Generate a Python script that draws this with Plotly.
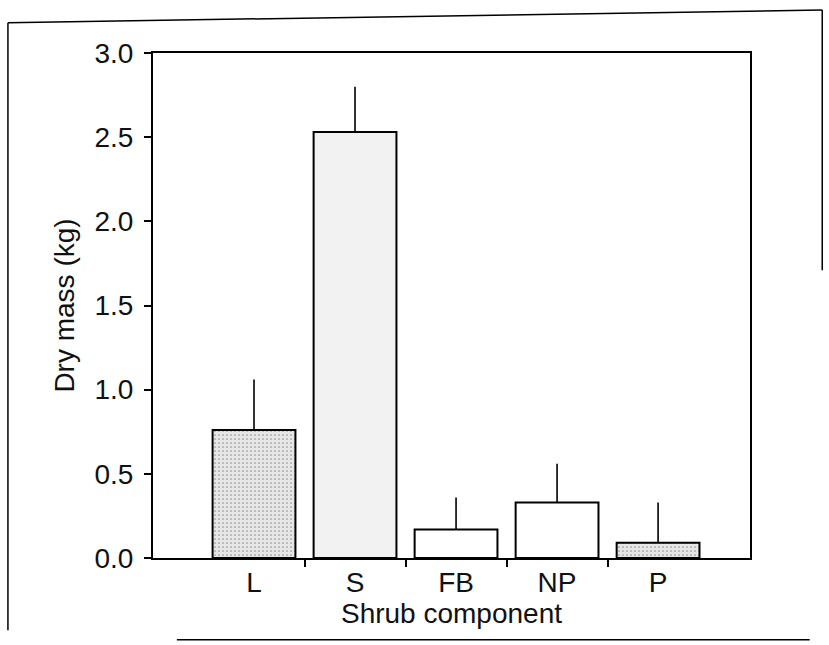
import plotly.graph_objects as go

categories = ["L", "S", "FB", "NP", "P"]
values = [0.76, 2.53, 0.17, 0.33, 0.09]
err_upper = [0.30, 0.27, 0.19, 0.23, 0.24]
fills = ["#e6e6e6", "#f2f2f2", "#ffffff", "#ffffff", "#e6e6e6"]
yticks = [0.0, 0.5, 1.0, 1.5, 2.0, 2.5, 3.0]
ytick_text = ["0.0", "0.5", "1.0", "1.5", "2.0", "2.5", "3.0"]

xpos = list(range(len(categories)))

fig = go.Figure()
fig.add_trace(go.Bar(
    x=xpos, y=values, width=0.82,
    marker=dict(color=fills, line=dict(color="black", width=2),
                pattern=dict(shape=[".", "", "", "", "."], size=4, solidity=0.15, fgcolor="#9a9a9a")),
    error_y=dict(type="data", symmetric=False, array=err_upper,
                 arrayminus=[0] * len(values), width=0, thickness=1.6, color="black"),
    showlegend=False,
))

font = "Liberation Sans, Arial, Helvetica, sans-serif"
fs = 28
fig.update_layout(
    width=829, height=645,
    margin=dict(l=153, r=79, t=53, b=87),
    paper_bgcolor="white", plot_bgcolor="white",
    font=dict(family=font, size=fs, color="#111111"),
    xaxis=dict(
        range=[-1.0, 4.91], tickvals=xpos, ticktext=categories,
        ticks="", showline=True, linecolor="black", linewidth=2, mirror=True,
        showgrid=False, zeroline=False, tickfont=dict(size=fs),
        ticklabelstandoff=-2,
        minor=dict(tickvals=[0.5, 1.5, 2.5, 3.5], ticks="outside", ticklen=7,
                   tickcolor="black", tickwidth=2, showgrid=False),
        title=dict(text="Shrub component", font=dict(size=fs), standoff=2),
    ),
    yaxis=dict(
        range=[0, 3.0], tickvals=yticks, ticktext=ytick_text,
        ticks="outside", ticklen=7, tickcolor="black", tickwidth=1.5,
        showline=True, linecolor="black", linewidth=2, mirror=True,
        showgrid=False, zeroline=False, tickfont=dict(size=fs),
        ticklabelstandoff=5,
        title=dict(text="Dry mass (kg)", font=dict(size=fs), standoff=12),
    ),
)

# scanned page frame
line = dict(color="black", width=1.5)
fig.add_shape(type="line", xref="paper", yref="paper", x0=-0.243, y0=1.060, x1=1.121, y1=1.085, line=line)
fig.add_shape(type="line", xref="paper", yref="paper", x0=-0.243, y0=1.060, x1=-0.243, y1=-0.143, line=line)
fig.add_shape(type="line", xref="paper", yref="paper", x0=1.121, y0=1.085, x1=1.121, y1=0.57, line=line)
fig.add_shape(type="line", xref="paper", yref="paper", x0=0.04, y0=-0.162, x1=1.10, y1=-0.162, line=line)

fig.write_html("out.html")
